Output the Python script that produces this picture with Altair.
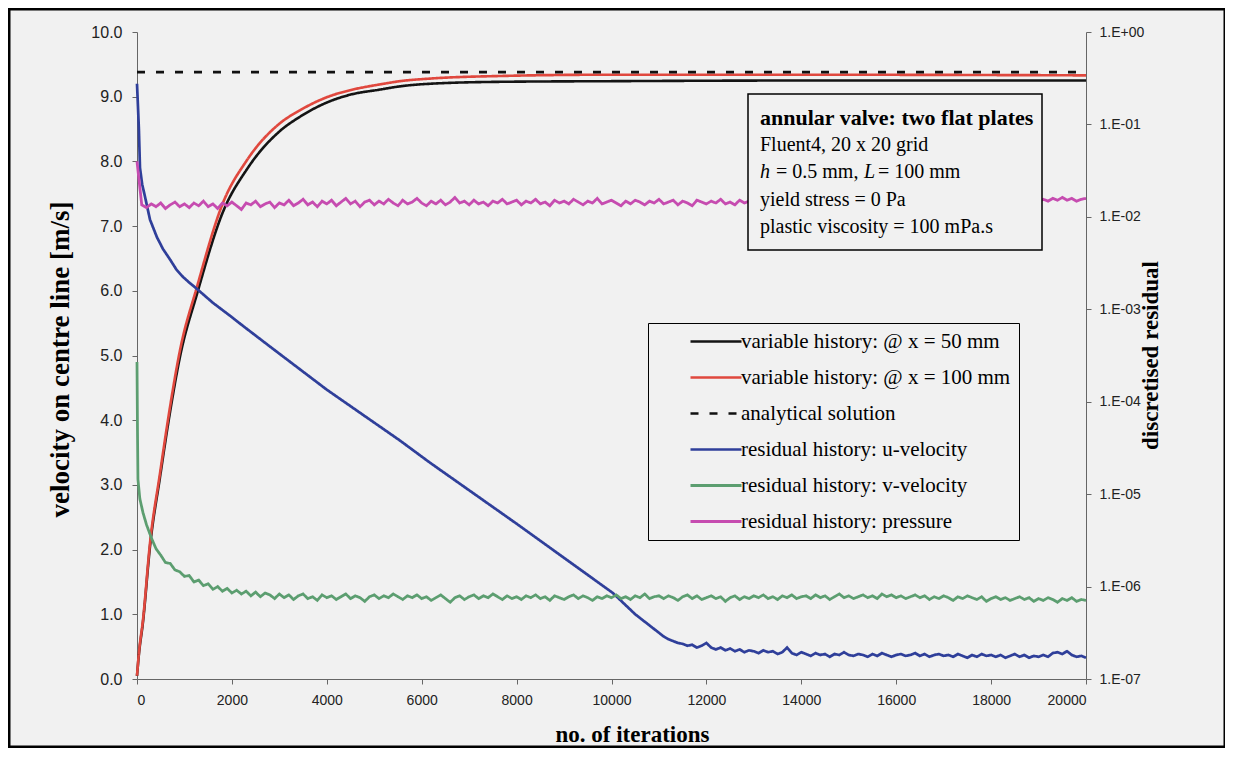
import altair as alt
import pandas as pd

# ---------------- data ----------------
SERIES = [
    "variable history: @ x = 50 mm",
    "variable history: @ x = 100 mm",
    "analytical solution",
    "residual history: u-velocity",
    "residual history: v-velocity",
    "residual history: pressure",
]
COLORS = ["#141414", "#e0483e", "#111111", "#2f3f9a", "#5c9e70", "#c64cb0"]
WIDTHS = [2.6, 2.8, 3.2, 1.8, 1.8, 1.8]
DASHES = [[1, 0], [1, 0], [8, 11], [1, 0], [1, 0], [1, 0]]

# velocity on centre line [m/s]
iter_x50 = [0, 40, 126, 274, 485, 695, 906, 1264, 1812, 2318, 3013, 3434, 4067, 4488,
            5120, 5542, 6174, 7650, 10000, 14000, 20000]
vel_x50 = [0.05, 0.38, 0.88, 2.05, 3.12, 4.12, 4.98, 5.95, 7.22, 7.88, 8.47, 8.69, 8.93, 9.03,
           9.11, 9.16, 9.20, 9.23, 9.24, 9.25, 9.25]
iter_x100 = [0, 40, 126, 274, 485, 695, 906, 1264, 1812, 2318, 3013, 3434, 4067, 4488,
             5120, 5542, 6174, 7650, 10000, 14000, 20000]
vel_x100 = [0.05, 0.40, 0.91, 2.10, 3.18, 4.20, 5.08, 6.06, 7.36, 8.02, 8.59, 8.79, 9.01, 9.10,
            9.19, 9.24, 9.28, 9.32, 9.34, 9.34, 9.33]
iter_analytical = [0, 20000]
vel_analytical = [9.38, 9.38]

# log10 of the discretised residual (right axis, 1.E-07 .. 1.E+00)
iter_u = [0, 20, 40, 63, 110, 170, 274, 420, 550, 695, 830, 970, 1100, 1264, 1600, 1960,
          2234, 2845, 4000, 5542, 6175, 8000, 10030, 10500, 11000] + list(range(11100, 20001, 100))
res_u = [-0.56, -0.80, -1.05, -1.47, -1.65, -1.785, -2.03, -2.22, -2.35, -2.46, -2.57, -2.65,
         -2.71, -2.78, -2.93, -3.07, -3.18, -3.42, -3.87, -4.42, -4.66, -5.32, -6.07, -6.30, -6.50,
         -6.54, -6.57, -6.59, -6.61, -6.62, -6.64, -6.63, -6.66, -6.64, -6.61,
         -6.66, -6.68, -6.66, -6.69, -6.67, -6.70, -6.68, -6.71, -6.69, -6.70,
         -6.72, -6.69, -6.71, -6.70, -6.73, -6.71, -6.66, -6.72, -6.74, -6.71,
         -6.73, -6.75, -6.72, -6.74, -6.73, -6.76, -6.73, -6.74, -6.71, -6.74,
         -6.75, -6.73, -6.74, -6.76, -6.73, -6.75, -6.72, -6.74, -6.76, -6.74,
         -6.73, -6.75, -6.74, -6.72, -6.75, -6.73, -6.76, -6.74, -6.73, -6.75,
         -6.74, -6.76, -6.73, -6.75, -6.77, -6.74, -6.76, -6.73, -6.75, -6.74,
         -6.76, -6.74, -6.77, -6.75, -6.73, -6.76, -6.74, -6.77, -6.75, -6.76,
         -6.74, -6.76, -6.72, -6.71, -6.73, -6.70, -6.74, -6.76, -6.75, -6.77]

iter_v = [0, 10, 20, 60, 126] + list(range(200, 20001, 100))
res_v = [-3.57, -4.30, -4.84, -5.05, -5.20,
         -5.33, -5.47, -5.59, -5.66, -5.74, -5.75, -5.82, -5.84, -5.89,
         -5.88, -5.95, -5.93, -5.99, -5.97, -6.03, -6.00, -6.05, -6.02, -6.07,
         -6.04, -6.08, -6.05, -6.10, -6.06, -6.11, -6.07, -6.09, -6.13, -6.08,
         -6.12, -6.09, -6.14, -6.10, -6.08, -6.13, -6.11, -6.15, -6.09, -6.12,
         -6.10, -6.14, -6.11, -6.08, -6.13, -6.10, -6.12, -6.16, -6.11, -6.09,
         -6.13, -6.10, -6.12, -6.08, -6.11, -6.14, -6.10, -6.12, -6.09, -6.13,
         -6.11, -6.15, -6.12, -6.09, -6.13, -6.17, -6.12, -6.10, -6.14, -6.11,
         -6.09, -6.13, -6.10, -6.12, -6.08, -6.11, -6.14, -6.10, -6.13, -6.11,
         -6.14, -6.10, -6.12, -6.09, -6.13, -6.11, -6.15, -6.10, -6.12, -6.14,
         -6.11, -6.09, -6.13, -6.10, -6.12, -6.15, -6.11, -6.13, -6.10, -6.12,
         -6.09, -6.13, -6.11, -6.14, -6.10, -6.12, -6.08, -6.13, -6.11, -6.10,
         -6.13, -6.10, -6.12, -6.15, -6.11, -6.09, -6.13, -6.10, -6.14, -6.12,
         -6.10, -6.13, -6.11, -6.16, -6.12, -6.10, -6.14, -6.11, -6.13, -6.10,
         -6.12, -6.09, -6.13, -6.11, -6.14, -6.10, -6.12, -6.09, -6.13, -6.11,
         -6.10, -6.13, -6.09, -6.12, -6.10, -6.14, -6.11, -6.08, -6.12, -6.10,
         -6.13, -6.11, -6.09, -6.12, -6.10, -6.13, -6.08, -6.11, -6.09, -6.12,
         -6.10, -6.13, -6.11, -6.09, -6.12, -6.10, -6.14, -6.11, -6.13, -6.10,
         -6.12, -6.15, -6.11, -6.13, -6.10, -6.12, -6.14, -6.11, -6.16, -6.13,
         -6.11, -6.14, -6.12, -6.15, -6.13, -6.11, -6.14, -6.12, -6.16, -6.13,
         -6.15, -6.12, -6.14, -6.17, -6.13, -6.15, -6.12, -6.16, -6.14, -6.15]

iter_p = list(range(0, 20001, 100))
res_p = [-1.40,
         -1.87, -1.90, -1.86, -1.89, -1.85, -1.91, -1.87, -1.84, -1.89, -1.86,
         -1.90, -1.85, -1.88, -1.83, -1.89, -1.86, -1.91, -1.85, -1.88, -1.84,
         -1.88, -1.92, -1.85, -1.87, -1.83, -1.89, -1.86, -1.84, -1.90, -1.85,
         -1.87, -1.82, -1.88, -1.85, -1.81, -1.87, -1.84, -1.89, -1.83, -1.86,
         -1.82, -1.88, -1.84, -1.80, -1.86, -1.83, -1.89, -1.84, -1.82, -1.87,
         -1.83, -1.86, -1.81, -1.85, -1.88, -1.82, -1.86, -1.84, -1.80, -1.85,
         -1.88, -1.83, -1.86, -1.82, -1.87, -1.84, -1.79, -1.85, -1.83, -1.87,
         -1.82, -1.86, -1.84, -1.88, -1.83, -1.85, -1.81, -1.86, -1.84, -1.82,
         -1.87, -1.83, -1.85, -1.81, -1.86, -1.84, -1.88, -1.82, -1.85, -1.83,
         -1.86, -1.81, -1.84, -1.87, -1.83, -1.85, -1.80, -1.86, -1.84, -1.82,
         -1.85, -1.88, -1.83, -1.86, -1.82, -1.84, -1.87, -1.83, -1.85, -1.81,
         -1.86, -1.84, -1.82, -1.87, -1.83, -1.85, -1.88, -1.82, -1.84, -1.86,
         -1.83, -1.85, -1.81, -1.86, -1.84, -1.87, -1.82, -1.85, -1.83, -1.86,
         -1.84, -1.81, -1.86, -1.83, -1.85, -1.88, -1.82, -1.84, -1.86, -1.83,
         -1.85, -1.82, -1.87, -1.83, -1.84, -1.81, -1.86, -1.84, -1.82, -1.85,
         -1.83, -1.86, -1.82, -1.84, -1.87, -1.83, -1.85, -1.81, -1.84, -1.86,
         -1.82, -1.85, -1.83, -1.86, -1.81, -1.84, -1.82, -1.85, -1.83, -1.80,
         -1.84, -1.82, -1.85, -1.81, -1.83, -1.86, -1.82, -1.84, -1.81, -1.83,
         -1.85, -1.82, -1.84, -1.80, -1.83, -1.85, -1.81, -1.83, -1.82, -1.84,
         -1.81, -1.83, -1.80, -1.82, -1.79, -1.82, -1.80, -1.83, -1.81, -1.80]

X_TICKS = list(range(0, 20001, 2000))
LEFT_TICKS = [0, 1, 2, 3, 4, 5, 6, 7, 8, 9, 10]
RIGHT_TICKS = [-7, -6, -5, -4, -3, -2, -1, 0]

NOTE_LINES = ["annular valve: two flat plates", "Fluent4, 20 x 20 grid",
              "yield stress = 0 Pa", "plastic viscosity = 100 mPa.s"]

# ---------------- tables ----------------
vel_df = pd.concat([
    pd.DataFrame({"iteration": iter_x50, "velocity": vel_x50, "series": SERIES[0]}),
    pd.DataFrame({"iteration": iter_x100, "velocity": vel_x100, "series": SERIES[1]}),
    pd.DataFrame({"iteration": iter_analytical, "velocity": vel_analytical, "series": SERIES[2]}),
], ignore_index=True)
res_df = pd.concat([
    pd.DataFrame({"iteration": iter_u, "log10_residual": res_u, "series": SERIES[3]}),
    pd.DataFrame({"iteration": iter_v, "log10_residual": res_v, "series": SERIES[4]}),
    pd.DataFrame({"iteration": iter_p, "log10_residual": res_p, "series": SERIES[5]}),
], ignore_index=True)

W, H = 949, 647
SERIF = "Liberation Serif"
SANS = "Liberation Sans"
BG = "#f1f1f1"

legend = alt.Legend(
    title=None, orient="none", legendX=511, legendY=291,
    symbolType="M-1,0H16", symbolSize=36, symbolOffset=27, labelOffset=37,
    labelFont=SERIF, labelFontSize=21, labelColor="black", labelLimit=500,
    padding=8, rowPadding=14, strokeColor="black", fillColor=BG,
)

x_enc = alt.X("iteration:Q", scale=alt.Scale(domain=[0, 20000], nice=False),
              axis=alt.Axis(values=X_TICKS, format="d", title="no. of iterations",
                            grid=False, labelFont=SANS, labelFontSize=14, labelColor="#222",
                            labelPadding=9, tickSize=5, domainColor="#666", tickColor="#666",
                            titleFont=SERIF, titleFontSize=23, titleFontWeight="bold",
                            titleColor="black", titleX=495, titleY=55, titleBaseline="middle"))

color_enc = alt.Color("series:N", scale=alt.Scale(domain=SERIES, range=COLORS), legend=legend)
dash_enc = alt.StrokeDash("series:N", scale=alt.Scale(domain=SERIES, range=DASHES), legend=legend)
width_enc = alt.StrokeWidth("series:N", scale=alt.Scale(domain=SERIES, range=WIDTHS), legend=legend)

vel_chart = alt.Chart(vel_df).mark_line(interpolate="monotone").encode(
    x=x_enc,
    y=alt.Y("velocity:Q", scale=alt.Scale(domain=[0, 10], nice=False),
            axis=alt.Axis(orient="left", values=LEFT_TICKS, format=".1f",
                          title="velocity on centre line [m/s]", grid=False,
                          labelFont=SANS, labelFontSize=16, labelColor="#222", labelPadding=10,
                          tickSize=5, domainColor="#666", tickColor="#666",
                          titleFont=SERIF, titleFontSize=27, titleFontWeight="bold",
                          titleColor="black", titleX=-77, titleY=327,
                          titleAlign="center", titleBaseline="middle")),
    color=color_enc, strokeDash=dash_enc, strokeWidth=width_enc,
)

res_chart = alt.Chart(res_df).mark_line().encode(
    x=x_enc,
    y=alt.Y("log10_residual:Q", scale=alt.Scale(domain=[-7, 0], nice=False),
            axis=alt.Axis(orient="right", values=RIGHT_TICKS,
                          labelExpr="'1.E' + (datum.value == 0 ? '+00' : '-0' + (-datum.value))",
                          title="discretised residual", grid=False,
                          labelFont=SANS, labelFontSize=14, labelColor="#222", labelPadding=8,
                          tickSize=5, domainColor="#666", tickColor="#666",
                          titleFont=SERIF, titleFontSize=23, titleFontWeight="bold",
                          titleColor="black", titleAngle=270, titleX=64, titleY=323,
                          titleAlign="center", titleBaseline="middle")),
    color=color_enc, strokeDash=dash_enc, strokeWidth=width_enc,
)

one = pd.DataFrame({"k": [0]})

frame = alt.Chart(one).mark_rect(filled=False, stroke="black", strokeWidth=3).encode(
    x=alt.value(-128), x2=alt.value(1088), y=alt.value(-23), y2=alt.value(715))

note_box = alt.Chart(one).mark_rect(fill=BG, stroke="black", strokeWidth=1.5).encode(
    x=alt.value(611), x2=alt.value(905), y=alt.value(62), y2=alt.value(218))

def txt(s, x, y, size=20, weight="normal", style="normal"):
    return alt.Chart(pd.DataFrame({"t": [s]})).mark_text(
        font=SERIF, fontSize=size, fontWeight=weight, fontStyle=style, color="black",
        align="left", baseline="middle").encode(text="t:N", x=alt.value(x), y=alt.value(y))

notes = [
    txt(NOTE_LINES[0], 623, 86, size=22, weight="bold"),
    txt(NOTE_LINES[1], 623, 113),
    txt("h", 623, 140, style="italic"),
    txt("= 0.5 mm,", 639, 140),
    txt("L", 727, 140, style="italic"),
    txt("= 100 mm", 741, 140),
    txt(NOTE_LINES[2], 623, 168),
    txt(NOTE_LINES[3], 623, 195),
]

chart = alt.layer(
    alt.layer(vel_chart, res_chart).resolve_scale(y="independent"),
    frame, note_box, *notes,
).properties(
    width=W, height=H, background=BG,
    padding={"left": 129, "top": 24, "right": 139, "bottom": 69},
    autosize=alt.AutoSizeParams(type="none"),
).configure_view(stroke=None)

chart.save("out.html", embed_options={"renderer": "svg", "actions": False})
